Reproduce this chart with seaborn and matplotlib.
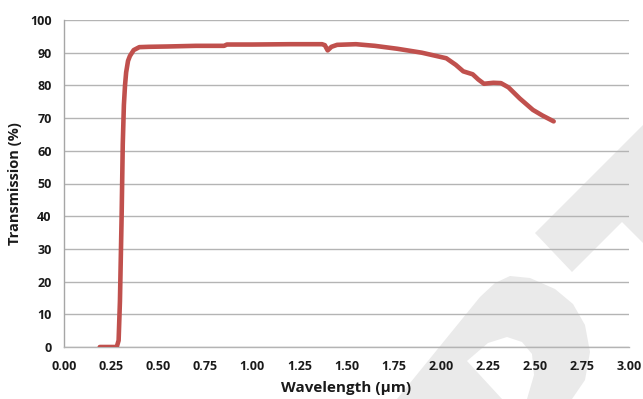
import matplotlib
matplotlib.use("Agg")
import matplotlib.pyplot as plt
from matplotlib.patches import Polygon
import seaborn as sns
import pandas as pd

# Transmission spectrum (wavelength in µm, transmission in %)
wavelength = [0.19, 0.28, 0.29, 0.297, 0.306, 0.312, 0.318, 0.324, 0.33, 0.34,
              0.35, 0.37, 0.40, 0.45, 0.55, 0.70, 0.85, 0.865, 1.00, 1.20,
              1.37, 1.385, 1.40, 1.42, 1.45, 1.55, 1.65, 1.77, 1.90, 2.03,
              2.08, 2.12, 2.17, 2.20, 2.23, 2.28, 2.32, 2.36, 2.42, 2.49,
              2.54, 2.60]
transmission = [0, 0, 2, 14, 40, 62, 74, 80, 84, 87.5,
                89.0, 90.8, 91.7, 91.8, 91.9, 92.1, 92.1, 92.5, 92.5, 92.6,
                92.6, 92.3, 90.7, 91.8, 92.4, 92.6, 92.1, 91.2, 90.0, 88.3,
                86.3, 84.3, 83.4, 81.8, 80.5, 80.8, 80.7, 79.4, 76.0, 72.5,
                70.8, 69.0]

x_ticks = [0.00, 0.25, 0.50, 0.75, 1.00, 1.25, 1.50, 1.75, 2.00, 2.25, 2.50, 2.75, 3.00]
y_ticks = [0, 10, 20, 30, 40, 50, 60, 70, 80, 90, 100]

df = pd.DataFrame({"Wavelength": wavelength, "Transmission": transmission})

sns.set_style("white")
plt.rcParams["font.family"] = ["Open Sans", "DejaVu Sans"]

W, H = 643, 399
fig = plt.figure(figsize=(W / 100, H / 100), dpi=100)

# light grey background logo
def px(points):
    return [(x / W, 1 - y / H) for x, y in points]

logo = "#eaeaea"
band = [(535, 233), (643, 125), (650, 125), (650, 250), (643, 243),
        (622, 222), (572, 272)]
arch = [(397, 399), (480, 297), (495, 283), (510, 276), (530, 278),
        (555, 289), (573, 304), (585, 325), (590, 352), (585, 380), (572, 399)]
hole = [(502, 399), (467, 361), (488, 343), (507, 337), (522, 342),
        (532, 354), (534, 375), (527, 399)]
for pts, col in [(band, logo), (arch, logo), (hole, "white")]:
    fig.patches.append(Polygon(px(pts), closed=True, transform=fig.transFigure,
                               facecolor=col, edgecolor="none", zorder=-5))

ax = fig.add_axes([64 / W, 52 / H, (629 - 64) / W, (347 - 20) / H])
ax.set_facecolor("none")
ax.set_zorder(2)

sns.lineplot(data=df, x="Wavelength", y="Transmission", ax=ax,
             color="#C0504D", linewidth=3.3, solid_capstyle="round", zorder=3)

ax.set_xlim(0, 3)
ax.set_ylim(0, 100)
ax.set_xticks(x_ticks)
ax.set_xticklabels([f"{v:.2f}" for v in x_ticks])
ax.set_yticks(y_ticks)
ax.set_yticklabels([str(v) for v in y_ticks])

ax.grid(axis="y", color="#b4b4b4", linewidth=1.0)
ax.grid(axis="x", visible=False)
ax.set_axisbelow(True)

for side in ["top", "right"]:
    ax.spines[side].set_visible(False)
ax.spines["left"].set_color("#a6a6a6")
ax.spines["bottom"].set_color("#b4b4b4")
ax.spines["left"].set_linewidth(1.0)
ax.spines["bottom"].set_linewidth(1.0)

ax.tick_params(axis="both", which="both", direction="out", length=3,
               width=1.0, color="#a6a6a6", labelsize=9, labelcolor="#1a1a1a")
ax.tick_params(axis="y", pad=6)
ax.tick_params(axis="x", pad=6)
for lab in ax.get_xticklabels() + ax.get_yticklabels():
    lab.set_fontweight("bold")

ax.set_xlabel("Wavelength (µm)", fontsize=11, fontweight="bold", color="#1a1a1a",
              labelpad=6)
ax.set_ylabel("Transmission (%)", fontsize=10.5, fontweight="bold", color="#1a1a1a",
              labelpad=6)

fig.savefig("out.png", dpi=100)
